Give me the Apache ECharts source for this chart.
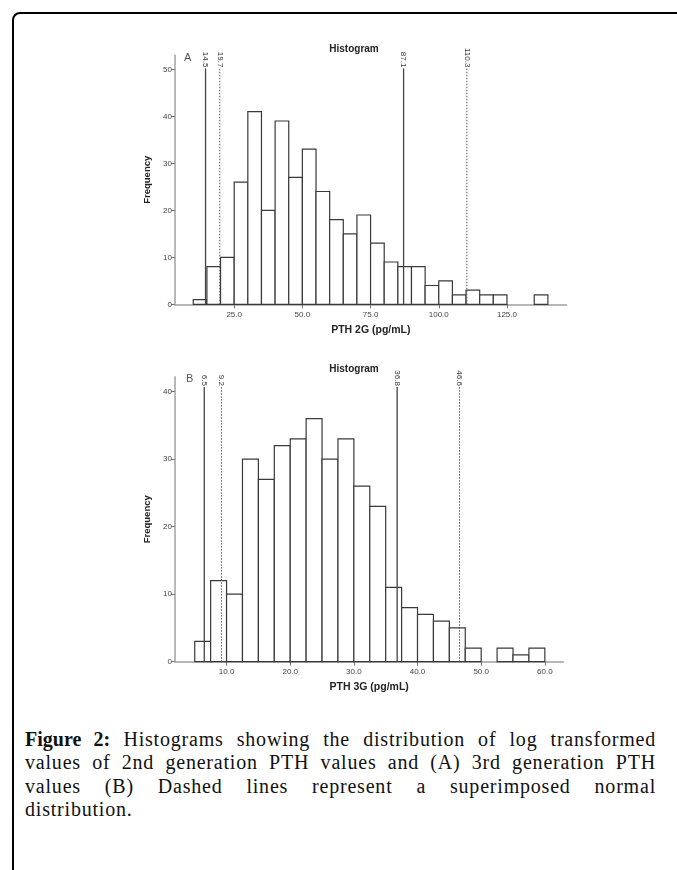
<!DOCTYPE html>
<html>
<head>
<meta charset="utf-8">
<script src="https://cdn.jsdelivr.net/npm/echarts@6/dist/echarts.min.js"></script>
<style>
  html, body { margin: 0; padding: 0; background: #fff; }
  .page { position: relative; width: 677px; height: 870px; overflow: hidden; }
  .frame {
    position: absolute; left: 12px; top: 12px; width: 700px; height: 900px;
    border-top: 2px solid #000; border-left: 2px solid #000;
    border-top-left-radius: 8px;
  }
  #chart { position: absolute; left: 0; top: 0; width: 677px; height: 700px; }
  .caption {
    position: absolute; left: 25px; top: 728px; width: 631px;
    font-family: "Liberation Serif", "DejaVu Serif", serif;
    font-size: 20px; line-height: 23.4px; color: #111; letter-spacing: 0.8px;
  }
  .caption .ln { text-align: justify; text-align-last: justify; white-space: nowrap; }
  .caption .ln.last { text-align-last: left; }
  .caption b { font-weight: bold; letter-spacing: 0; }
</style>
</head>
<body>
<div class="page">
  <div class="frame"></div>
  <div id="chart"></div>
  <div class="caption">
    <div class="ln"><b>Figure 2:</b> Histograms showing the distribution of log transformed</div>
    <div class="ln">values of 2nd generation PTH values and (A) 3rd generation PTH</div>
    <div class="ln">values (B) Dashed lines represent a superimposed normal</div>
    <div class="ln last">distribution.</div>
  </div>
</div>
<script>
// panel A: PTH 2G, bins of 5 starting at 10
const pth2Start = 10;
const pth2Width = 5;
const pth2Counts = [1, 8, 10, 26, 41, 20, 39, 27, 33, 24, 18, 15, 19, 13, 9, 8, 8, 4, 5, 2, 3, 2, 2, 0, 0, 2];
const pth2Ticks = [25, 50, 75, 100, 125];
const pth2Solid = [14.5, 87.1];
const pth2Dotted = [19.7, 110.3];

// panel B: PTH 3G, bins of 2.5 starting at 5
const pth3Start = 5;
const pth3Width = 2.5;
const pth3Counts = [3, 12, 10, 30, 27, 32, 33, 36, 30, 33, 26, 23, 11, 8, 7, 6, 5, 2, 0, 2, 1, 2];
const pth3Ticks = [10, 20, 30, 40, 50, 60];
const pth3Solid = [6.5, 36.8];
const pth3Dotted = [9.2, 46.6];

const chart = echarts.init(document.getElementById('chart'));

const toBins = (start, width, counts) =>
  counts.map((c, i) => [start + i * width, start + (i + 1) * width, c]).filter(d => d[2] > 0);

const toRefs = (solid, dotted, top) =>
  solid.map(v => [v, top, 0]).concat(dotted.map(v => [v, top, 1]));

function renderBar(params, api) {
  const p0 = api.coord([api.value(0), api.value(2)]);
  const p1 = api.coord([api.value(1), 0]);
  return {
    type: 'rect',
    shape: { x: p0[0], y: p0[1], width: p1[0] - p0[0], height: p1[1] - p0[1] },
    style: { fill: '#fff', stroke: '#3a3a3a', lineWidth: 1.2 }
  };
}

function renderRef(params, api) {
  const v = api.value(0);
  const bottom = api.coord([v, 0]);
  const top = api.coord([v, api.value(1)]);
  const dotted = api.value(2) === 1;
  return {
    type: 'group',
    children: [
      {
        type: 'line',
        shape: { x1: bottom[0], y1: bottom[1], x2: top[0], y2: top[1] },
        style: { stroke: dotted ? '#555' : '#444', lineWidth: dotted ? 1 : 1.3, lineDash: dotted ? [1.5, 1.5] : null }
      },
      {
        type: 'text',
        x: top[0], y: top[1] - 1,
        rotation: -Math.PI / 2,
        style: {
          text: v.toFixed(1), align: 'right', verticalAlign: 'middle',
          fontSize: 8, fontFamily: 'Arial', fill: '#333'
        }
      }
    ]
  };
}

const axisColor = '#a0a0a0';
const fmt = v => v.toFixed(1);

function xAxisOf(idx, min, max, ticks, name) {
  return {
    gridIndex: idx, type: 'value', min: min, max: max,
    name: name, nameLocation: 'middle', nameGap: 20,
    nameTextStyle: { fontFamily: 'Arial', fontWeight: 'bold', fontSize: 10.5, color: '#222' },
    axisLine: { lineStyle: { color: axisColor, width: 1.5 } },
    axisTick: { show: true, length: 4, customValues: ticks, lineStyle: { color: '#777' } },
    axisLabel: { customValues: ticks, formatter: fmt, fontSize: 8, fontFamily: 'Arial', color: '#444', margin: 6 },
    splitLine: { show: false }
  };
}

function yAxisOf(idx, max) {
  return {
    gridIndex: idx, type: 'value', min: 0, max: max, interval: 10,
    name: 'Frequency', nameLocation: 'middle', nameRotate: 90, nameGap: 20,
    nameTextStyle: { fontFamily: 'Arial', fontWeight: 'bold', fontSize: 9.5, color: '#222' },
    axisLine: { show: true, lineStyle: { color: axisColor, width: 1.5 } },
    axisTick: { show: true, length: 4, lineStyle: { color: '#777' } },
    axisLabel: { fontSize: 8, fontFamily: 'Arial', color: '#444', margin: 3, showMaxLabel: false },
    splitLine: { show: false }
  };
}

const titleStyle = { fontFamily: 'Arial', fontWeight: 'bold', fontSize: 10, color: '#222' };

chart.setOption({
  animation: false,
  title: [
    { text: 'Histogram', left: 354, top: 44, textAlign: 'center', padding: 0, textStyle: titleStyle },
    { text: 'A', left: 184, top: 52, padding: 0, textStyle: { fontFamily: 'Arial', fontSize: 11, fontWeight: 'normal', color: '#555' } },
    { text: 'Histogram', left: 354, top: 364, textAlign: 'center', padding: 0, textStyle: titleStyle },
    { text: 'B', left: 186, top: 373, padding: 0, textStyle: { fontFamily: 'Arial', fontSize: 11, fontWeight: 'normal', color: '#555' } }
  ],
  grid: [
    { left: 175, top: 55.2, width: 391.7, height: 249.1 },
    { left: 175, top: 376.8, width: 388.3, height: 284.9 }
  ],
  xAxis: [
    xAxisOf(0, 3.3, 146.9, pth2Ticks, 'PTH 2G (pg/mL)'),
    xAxisOf(1, 1.9, 62.9, pth3Ticks, 'PTH 3G (pg/mL)')
  ],
  yAxis: [
    yAxisOf(0, 53),
    yAxisOf(1, 42.2)
  ],
  series: [
    {
      type: 'custom', xAxisIndex: 0, yAxisIndex: 0, renderItem: renderBar,
      encode: { x: [0, 1], y: 2 }, data: toBins(pth2Start, pth2Width, pth2Counts)
    },
    {
      type: 'custom', xAxisIndex: 0, yAxisIndex: 0, renderItem: renderRef,
      encode: { x: 0, y: 1 }, data: toRefs(pth2Solid, pth2Dotted, 50.2)
    },
    {
      type: 'custom', xAxisIndex: 1, yAxisIndex: 1, renderItem: renderBar,
      encode: { x: [0, 1], y: 2 }, data: toBins(pth3Start, pth3Width, pth3Counts)
    },
    {
      type: 'custom', xAxisIndex: 1, yAxisIndex: 1, renderItem: renderRef,
      encode: { x: 0, y: 1 }, data: toRefs(pth3Solid, pth3Dotted, 40.7)
    }
  ]
});
</script>
</body>
</html>
